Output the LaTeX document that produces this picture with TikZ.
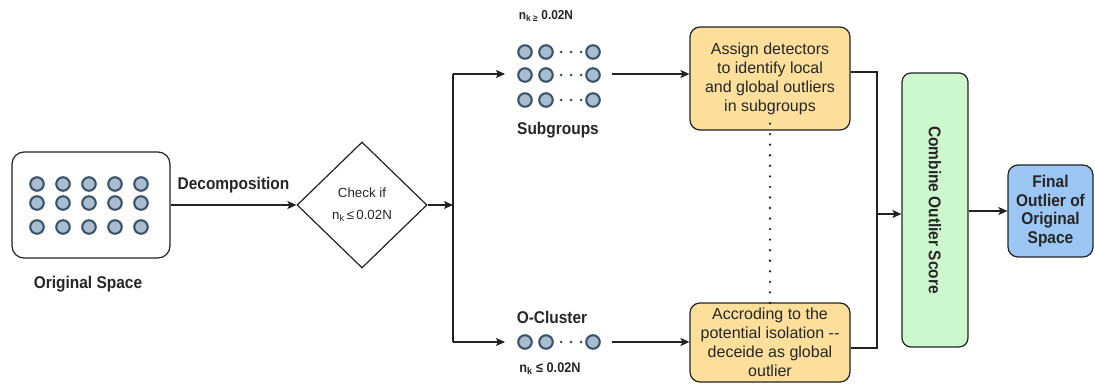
\documentclass[tikz,border=0pt]{standalone}
\usepackage{fontspec}
\setmainfont{Liberation Sans}[BoldFeatures={FakeStretch=0.91}]
\usetikzlibrary{arrows.meta,shapes.geometric}
\definecolor{ink}{HTML}{222222}
\definecolor{txt}{HTML}{262626}
\definecolor{ptfill}{HTML}{A9BDD1}
\definecolor{ptdraw}{HTML}{3B5368}
\definecolor{orangefill}{HTML}{FDDF9C}
\definecolor{greenfill}{HTML}{CDF7CD}
\definecolor{bluefill}{HTML}{9CC6F4}
\tikzset{
  pt/.style={circle,draw=ptdraw,fill=ptfill,line width=2.1pt,minimum size=13.5pt,inner sep=0pt},
  tinydot/.style={circle,fill=ptdraw,minimum size=3pt,inner sep=0pt},
  panel/.style={draw=ink,line width=1.2pt,rounded corners=12pt,inner sep=0pt},
  taskbox/.style={draw=ink,fill=orangefill,line width=1.2pt,rounded corners=10pt,inner sep=0pt,align=center,text=txt,font=\fontsize{16}{19}\selectfont},
  decision/.style={diamond,draw=ink,line width=1.2pt,inner sep=0pt,align=center,text=txt,font=\fontsize{13.3}{22}\selectfont},
  lbl/.style={inner sep=0pt,text=txt,font=\fontsize{17}{19}\selectfont\bfseries},
  flow/.style={draw=ink,line width=1.2pt},
  arr/.style={flow,-{Stealth[length=9pt,width=8pt,inset=2pt]}},
}
\begin{document}
\begin{tikzpicture}[x=1pt,y=-1pt]
\useasboundingbox (0,0) rectangle (1095,385);

% original space
\node[panel,minimum width=158pt,minimum height=106pt] (orig) at (91,205) {};
\foreach \r/\y in {1/184,2/203,3/227}
  \foreach \c/\x in {1/37,2/63,3/89,4/115,5/141}
    \node[pt] (o-\r-\c) at (\x,\y) {};
\node[lbl] (origlbl) at (88,284) {Original Space};

% decision
\node[decision,minimum width=130pt,minimum height=126pt] (check) at (362,205)
  {Check if\\n\textsubscript{k}\,≤\,0.02N};
\draw[arr] (orig.east) -- node[lbl,above=11pt] (declbl) {Decomposition} (check.west);

% split
\coordinate (split) at (453,205);
\coordinate (splitT) at (453,74);
\coordinate (splitB) at (453,342);
\draw[arr] (check.east) -- (split);
\draw[flow] (splitT) -- (splitB);

% subgroups
\foreach \r/\y in {1/52,2/75,3/100}{
  \node[pt] (s-\r-1) at (525,\y) {};
  \node[pt] (s-\r-2) at (546,\y) {};
  \node[pt] (s-\r-3) at (593,\y) {};
  \foreach \d/\x in {1/561,2/571,3/581}
    \node[tinydot] (sd-\r-\d) at (\x,\y) {};
}
\node[inner sep=0pt,text=txt,font=\fontsize{13}{14}\selectfont\bfseries] (subtop) at (546,16)
  {n\textsubscript{k ≥} 0.02N};
\node[lbl] (sublbl) at (558,130) {Subgroups};
\coordinate (subIn) at (505,74);
\coordinate (subOut) at (612,74);
\draw[arr] (splitT) -- (subIn);

% o-cluster
\node[pt] (c-1) at (525,342) {};
\node[pt] (c-2) at (546,342) {};
\node[pt] (c-3) at (593,342) {};
\foreach \d/\x in {1/561,2/571,3/581}
  \node[tinydot] (cd-\d) at (\x,342) {};
\node[lbl] (clulbl) at (552,317) {O-Cluster};
\node[inner sep=0pt,text=txt,font=\fontsize{14}{15}\selectfont\bfseries] (clubot) at (550,369)
  {n\textsubscript{k} ≤ 0.02N};
\coordinate (cluIn) at (505,342);
\coordinate (cluOut) at (612,342);
\draw[arr] (splitB) -- (cluIn);

% detectors
\node[taskbox,minimum width=160pt,minimum height=103pt] (assign) at (770,78.5)
  {Assign detectors\\to identify local\\and global outliers\\in subgroups};
\node[taskbox,minimum width=160pt,minimum height=79pt] (accord) at (770,342.5)
  {Accroding to the\\potential isolation -{}-\\deceide as global\\outlier};
\draw[arr] (subOut) -- (assign.west |- subOut);
\draw[arr] (cluOut) -- (accord.west |- cluOut);
\draw[ink,line width=2.6pt,line cap=round,dash pattern=on 0pt off 10.55pt]
  ([yshift=7pt]assign.south) -- ([yshift=-8pt]accord.north);

% merge
\coordinate (mT) at (877,72);
\coordinate (mB) at (877,348);
\coordinate (mM) at (877,214);
\draw[flow] (assign.east |- mT) -- (mT) -- (mB) -- (accord.east |- mB);
\node[draw=ink,fill=greenfill,line width=1.2pt,rounded corners=9pt,minimum width=66pt,minimum height=274pt,inner sep=0pt] (combine) at (935,210) {};
\node[lbl,rotate=-90] (combinetxt) at (combine.center) {Combine Outlier Score};
\draw[arr] (mM) -- (combine.west |- mM);

% result
\node[draw=ink,fill=bluefill,line width=1.2pt,rounded corners=10pt,minimum width=85pt,minimum height=92pt,inner sep=0pt,align=center,text=txt,font=\fontsize{17}{18.5}\selectfont\bfseries] (final) at (1050.5,211)
  {Final\\Outlier of\\Original\\Space};
\draw[arr] (combine.east |- final.west) -- (final.west);
\end{tikzpicture}
\end{document}
